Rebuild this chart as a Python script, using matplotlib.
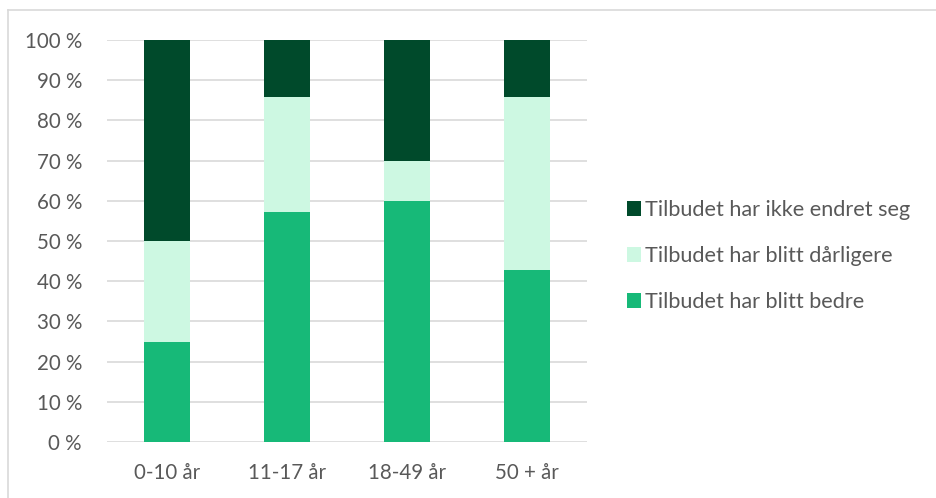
import matplotlib
matplotlib.use("Agg")
import matplotlib.pyplot as plt
from matplotlib.lines import Line2D

categories = ["0-10 år", "11-17 år", "18-49 år", "50 + år"]
bedre = [25.0, 57.1, 60.0, 42.9]
darligere = [25.0, 28.6, 10.0, 42.9]
ikke_endret = [50.0, 14.3, 30.0, 14.2]
series_names = ["Tilbudet har blitt bedre", "Tilbudet har blitt dårligere",
                "Tilbudet har ikke endret seg"]
colors = ["#17B978", "#CDF8E2", "#004A2B"]
yticks = list(range(0, 101, 10))
ytick_labels = [f"{v} %" for v in yticks]

plt.rcParams['font.family'] = ['Lato', 'DejaVu Sans']
text_color = "#595959"

fig = plt.figure(figsize=(9.36, 4.98), dpi=100)
ax = fig.add_axes([107/936, 1 - 442/498, (587-107)/936, (442-40)/498])

x = list(range(len(categories)))
bottoms = [0.0] * len(categories)
handles = []
for vals, name, col in zip([bedre, darligere, ikke_endret], series_names, colors):
    b = ax.bar(x, vals, bottom=bottoms, width=0.39, color=col, label=name, zorder=3)
    handles.append(b)
    bottoms = [bo + v for bo, v in zip(bottoms, vals)]

ax.set_xlim(-0.5, len(categories) - 0.5)
ax.set_ylim(0, 100)
ax.set_yticks(yticks)
ax.set_yticklabels(ytick_labels)
ax.set_xticks(x)
ax.set_xticklabels(categories)
ax.grid(axis="y", color="#D9D9D9", linewidth=1.2, zorder=0)
for s in ax.spines.values():
    s.set_visible(False)
ax.tick_params(axis="both", length=0, labelsize=14.8, colors=text_color)
ax.tick_params(axis="y", pad=18)
ax.tick_params(axis="x", pad=15)

leg = fig.legend(handles[::-1], series_names[::-1], loc="center left",
                 bbox_to_anchor=(607/936, 1 - 256/498), frameon=False,
                 fontsize=15.6, labelcolor=text_color, handlelength=0.65,
                 handleheight=0.65, handletextpad=0.2, labelspacing=1.2)

# chart border (left and top)
fig.add_artist(Line2D([8/936, 8/936], [0, 1 - 10/498], color="#D9D9D9", lw=1.2, transform=fig.transFigure))
fig.add_artist(Line2D([8/936, 1], [1 - 10/498, 1 - 10/498], color="#D9D9D9", lw=1.2, transform=fig.transFigure))

fig.savefig("out.png", dpi=100)
